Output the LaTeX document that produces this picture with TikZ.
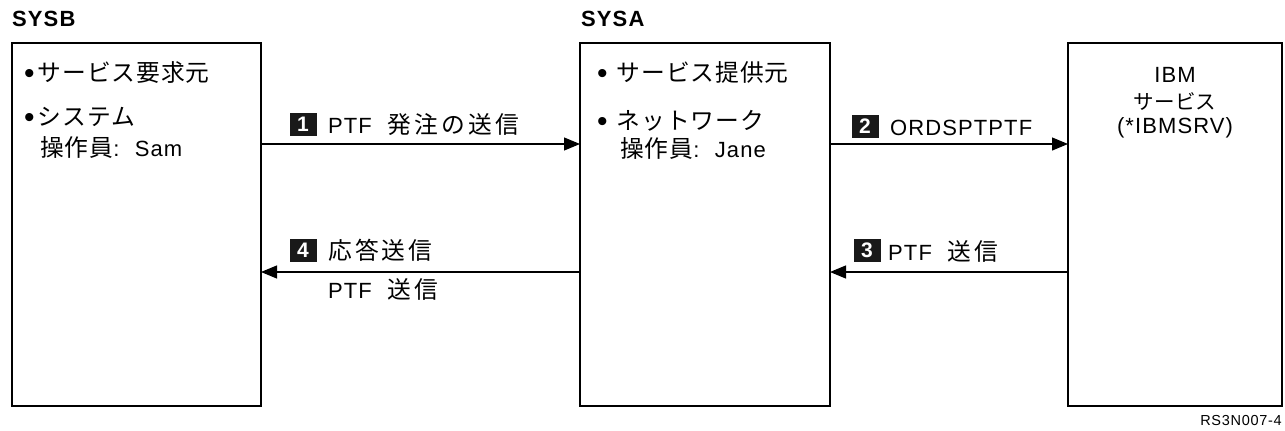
\documentclass[tikz,border=0pt]{standalone}
\usepackage{fontspec}
\setmainfont{Liberation Sans}[LetterSpace=5]
\newfontfamily\jp{Noto Sans CJK JP}[Scale=1.08,LetterSpace=4]
\newfontfamily\jpw{Noto Sans CJK JP}[Scale=1.08,LetterSpace=13]
\newfontfamily\jpn{Noto Sans CJK JP}[Scale=1.08]
\newcommand\blt{\raisebox{-2pt}{\fontsize{30}{30}\selectfont •}}
\usetikzlibrary{positioning,arrows.meta}

\begin{document}
\begin{tikzpicture}[x=1pt, y=-1pt, font=\fontsize{22}{26}\selectfont,
  >={Triangle[length=16pt,width=13pt]},
  sys/.style={draw, line width=1.6pt, minimum height=363pt, inner sep=0pt, outer sep=0pt},
  head/.style={anchor=base west, inner sep=0pt, font=\bfseries\fontsize{22}{26}\selectfont},
  txt/.style={anchor=base west, inner sep=0pt},
  mid/.style={anchor=base, inner sep=0pt},
  num/.style={fill=black!90, text=white, inner sep=0pt, minimum width=27pt, minimum height=23pt,
    font=\bfseries\fontsize{21}{21}\selectfont},
  arr/.style={->, line width=1.2pt}]
  \useasboundingbox (0,0) rectangle (1285,431);

  \node[sys, anchor=north west, minimum width=249pt] (sysb) at (12,43) {};
  \node[sys, minimum width=250pt, right=319pt of sysb] (sysa) {};
  \node[sys, minimum width=214pt, right=238pt of sysa] (ibm) {};

  \node[head] (hsysb) at (12,27) {SYSB};
  \node[head] (hsysa) at (581,27) {SYSA};

  \node[txt] (b1) at (24,81) {\blt\hspace{3pt}{\jp サービス要求元}};
  \node[txt] (b2) at (24,125) {\blt\hspace{3pt}{\jp システム}};
  \node[txt] (b3) at (40,156) {{\jp 操作員}:\hspace{0.7em}Sam};

  \node[txt] (a1) at (597,81) {\blt\hspace{9pt}{\jp サービス提供元}};
  \node[txt] (a2) at (597,129) {\blt\hspace{9pt}{\jp ネットワーク}};
  \node[txt] (a3) at (620,157) {{\jp 操作員}:\hspace{0.7em}Jane};

  \node[mid] (i1) at (1175,82) {IBM};
  \node[mid] (i2) at (1175,109) {\jpn\fontsize{19}{22}\selectfont サービス};
  \node[mid] (i3) at (1175,133) {(*IBMSRV)};

  \coordinate (y1) at (0,144);
  \coordinate (y4) at (0,272);
  \draw[arr] (sysb.east |- y1) -- (sysa.west |- y1);
  \draw[arr] (sysa.east |- y1) -- (ibm.west |- y1);
  \draw[arr] (ibm.west |- y4) -- (sysa.east |- y4);
  \draw[arr] (sysa.west |- y4) -- (sysb.east |- y4);

  \node[num] (n1) at (303,124) {1};
  \node[txt] (l1) at (328,133) {PTF\hspace{16pt}{\jpw 発注の送信}};
  \node[num] (n2) at (865,126) {2};
  \node[txt] (l2) at (890,135) {ORDSPTPTF};
  \node[num] (n3) at (867,250) {3};
  \node[txt] (l3) at (888,260) {PTF\hspace{16pt}{\jpw 送信}};
  \node[num] (n4) at (303,250) {4};
  \node[txt] (l4) at (328,259) {\jpw 応答送信};
  \node[txt] (l5) at (328,298) {PTF\hspace{16pt}{\jpw 送信}};

  \node[anchor=base east, inner sep=0pt, font=\fontsize{14.5}{16}\selectfont] (code) at (1282,425) {RS3N007-4};
\end{tikzpicture}
\end{document}
